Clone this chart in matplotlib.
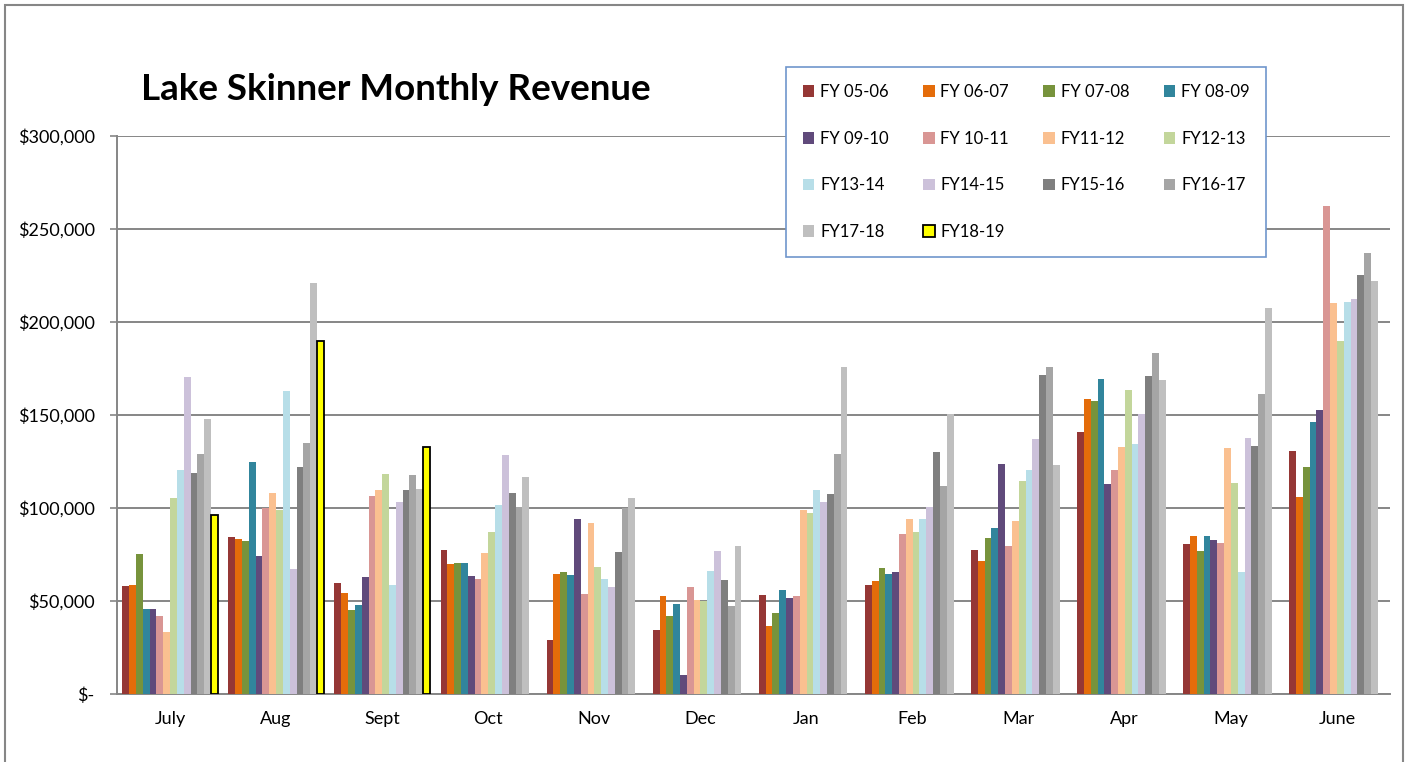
'''Lake Skinner monthly revenue, grouped bars per fiscal year.'''

import numpy as np
import matplotlib.pyplot as plt
from matplotlib.patches import Rectangle
from matplotlib.ticker import FuncFormatter, MultipleLocator

months = ['July', 'Aug', 'Sept', 'Oct', 'Nov', 'Dec',
          'Jan', 'Feb', 'Mar', 'Apr', 'May', 'June']

fy_labels = ['FY 05-06', 'FY 06-07', 'FY 07-08', 'FY 08-09', 'FY 09-10', 'FY 10-11',
             'FY11-12', 'FY12-13', 'FY13-14', 'FY14-15', 'FY15-16', 'FY16-17',
             'FY17-18', 'FY18-19']

fy05_06 = [58000, 84600, 59700, 77400, 29000, 34200, 53000, 58400, 77600, 140900, 80600, 130800]
fy06_07 = [58600, 83300, 54300, 70000, 64500, 52900, 36600, 60700, 71500, 158400, 84900, 106100]
fy07_08 = [75300, 82300, 45000, 70600, 65400, 41800, 43400, 67900, 83700, 157500, 76900, 121900]
fy08_09 = [45500, 124600, 47700, 70600, 63800, 48400, 56100, 64300, 89100, 169500, 84800, 146200]
fy09_10 = [45500, 74000, 63000, 63400, 93900, 10400, 51800, 65400, 123500, 113100, 82800, 152700]
fy10_11 = [42000, 99800, 106400, 61800, 53600, 57500, 52500, 86200, 79400, 120300, 81000, 262200]
fy11_12 = [33300, 108000, 109700, 75800, 91900, 50500, 98900, 94200, 93200, 132800, 132300, 210000]
fy12_13 = [105400, 98700, 118400, 87300, 68300, 50200, 97300, 86900, 114300, 163300, 113300, 189800]
fy13_14 = [120300, 162900, 58600, 101400, 62000, 66300, 109700, 94200, 120400, 134200, 65800, 210700]
fy14_15 = [170400, 67400, 103200, 128300, 57700, 76900, 103200, 100400, 137300, 150500, 137800, 212200]
fy15_16 = [119000, 122200, 109500, 108000, 76200, 61300, 107500, 130100, 171300, 170800, 133200, 225100]
fy16_17 = [128900, 135100, 117700, 100500, 99800, 47300, 129000, 111700, 176000, 183200, 161300, 237100]
fy17_18 = [147700, 220800, 110000, 116800, 105500, 79700, 175600, 150400, 122900, 168800, 207300, 222200]
fy18_19 = [96400, 189600, 132800] + [np.nan] * 9

series = [fy05_06, fy06_07, fy07_08, fy08_09, fy09_10, fy10_11, fy11_12,
          fy12_13, fy13_14, fy14_15, fy15_16, fy16_17, fy17_18, fy18_19]

colors = ['#953735', '#E46C0A', '#77933C', '#31859C', '#604A7B', '#D99694', '#FAC090',
          '#C3D69B', '#B7DEE8', '#CCC1DA', '#7F7F7F', '#A5A5A5', '#BFBFBF', '#FFFF00']

GRAY = '#868686'
FONT = 'Lato'


def money(value, pos):
    if value == 0:
        return '$-'
    return '${:,.0f}'.format(value)


fig = plt.figure(figsize=(14.09, 7.62), dpi=100)
ax = fig.add_axes([117 / 1409, 68 / 762, (1390 - 117) / 1409, (694 - 136) / 762])

x = np.arange(len(months))
n = len(series)
width = 0.9 / n
handles = []
for i, (values, color) in enumerate(zip(series, colors)):
    offset = (i - (n - 1) / 2) * width
    if fy_labels[i] == 'FY18-19':
        bars = ax.bar(x + offset, values, width, color=color, edgecolor='black',
                      linewidth=1.3, zorder=3, label=fy_labels[i])
    else:
        bars = ax.bar(x + offset, values, width, color=color, linewidth=0,
                      zorder=3, label=fy_labels[i])
    handles.append(bars)

ax.set_xlim(-0.5, len(months) - 0.5)
ax.set_ylim(0, 300000)
ax.yaxis.set_major_locator(MultipleLocator(50000))
ax.yaxis.set_major_formatter(FuncFormatter(money))
ax.set_xticks(x)
ax.set_xticklabels(months)
ax.grid(axis='y', color=GRAY, linewidth=1.4, zorder=0)
ax.set_axisbelow(True)

for side in ['top', 'right']:
    ax.spines[side].set_visible(False)
for side in ['left', 'bottom']:
    ax.spines[side].set_color(GRAY)
    ax.spines[side].set_linewidth(1.4)

ax.tick_params(axis='y', length=5, width=1.2, color=GRAY, pad=11, labelsize=13)
ax.tick_params(axis='x', length=0, pad=12, labelsize=13)
for label in ax.get_xticklabels() + ax.get_yticklabels():
    label.set_fontfamily(FONT)

fig.text(141 / 1409, 1 - 90 / 762, 'Lake Skinner Monthly Revenue', fontsize=26.5,
         fontweight='bold', family=FONT, ha='left', va='center')

# legend is filled row by row in the original, matplotlib fills columns
order = [0, 4, 8, 12, 1, 5, 9, 13, 2, 6, 10, 3, 7, 11]
leg = fig.legend([handles[k] for k in order], [fy_labels[k] for k in order],
                 ncol=4, loc='upper left', bbox_to_anchor=(786 / 1409, 1 - 67 / 762),
                 prop={'family': FONT, 'size': 12}, handlelength=0.7, handleheight=0.7,
                 handletextpad=0.35, columnspacing=2.05, labelspacing=1.85,
                 borderpad=1.0, borderaxespad=0, fancybox=False, framealpha=1)
leg.get_frame().set_edgecolor('#6F96CC')
leg.get_frame().set_linewidth(1.2)

fig.patches.append(Rectangle((5 / 1409, -0.05), (1403 - 5) / 1409, 1.05 - 5 / 762,
                             transform=fig.transFigure, fill=False,
                             edgecolor=GRAY, linewidth=1.5))

fig.savefig('out.png', dpi=100)
